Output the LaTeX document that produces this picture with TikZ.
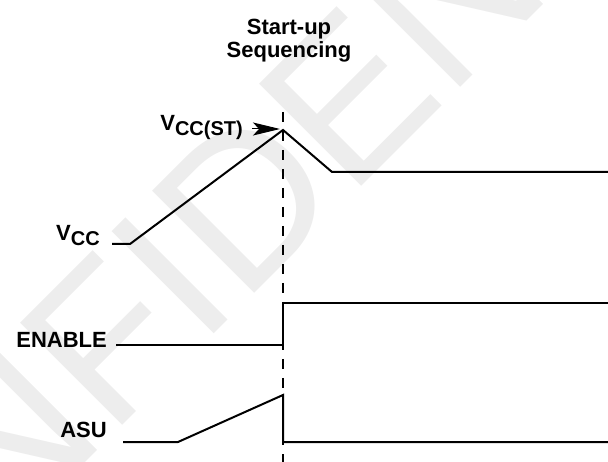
\documentclass[tikz,border=0pt]{standalone}
\usepackage{fontspec}
\setmainfont{Liberation Sans}
\usetikzlibrary{positioning, arrows.meta, calc}

\newcommand{\Vsub}[1]{V\raisebox{-0.2em}{\fontsize{20}{20}\selectfont #1}}

\tikzset{
        stamp/.style={text=black!7, font=\fontsize{210}{210}\selectfont, inner sep=0pt, rotate=45},
        wave/.style={line width=2pt, line join=miter},
        sig/.style={font=\bfseries\fontsize{22}{22}\selectfont, inner sep=0pt},
        marker/.style={line width=2.4pt, dash pattern=on 10pt off 9pt},
        pointer/.style={line width=1pt, -{Stealth[length=27pt, width=13pt, inset=6pt]}}
}

\begin{document}
\begin{tikzpicture}[x=1pt, y=-1pt]
        \useasboundingbox (0,0) rectangle (608,462);
        \begin{scope}
            \clip (0,0) rectangle (608,462);
            \node (Stamp) [stamp, anchor=base west] at (-220,768) {CONFIDENTIAL};
        \end{scope}

        \node (Title) [align=center, inner sep=0pt, font=\bfseries\fontsize{22}{23}\selectfont] at (289,41) {Start-up\\Sequencing};

        \coordinate (MarkTop) at (283,112);
        \coordinate (MarkBot) at (283,462);
        \draw[marker] (MarkTop) -- (MarkBot);

        \node (Vcc) [sig, anchor=base east] at (100,241) {\Vsub{CC}};
        \coordinate (VccRise) at (130,244);
        \coordinate (VccPeak) at (283,130);
        \coordinate (VccFall) at (332,172);
        \coordinate (VccEnd) at (608,172);
        \draw[wave] (Vcc.east |- VccRise) ++(12,0) -- (VccRise) -- (VccPeak) -- (VccFall) -- (VccEnd);

        \node (VccSt) [sig, anchor=base east] at (243,131) {\Vsub{CC(ST)}};
        \coordinate (VccTip) at (280,129);
        \draw[pointer, shorten <=9pt] (VccSt.east |- VccTip) -- (VccTip);

        \node (Enable) [sig, anchor=base east] at (107,348) {ENABLE};
        \coordinate (EnLow) at (283,345);
        \coordinate (EnHigh) at (283,303);
        \coordinate (EnEnd) at (608,303);
        \draw[wave] (Enable.east |- EnLow) ++(9,0) -- (EnLow) -- (EnHigh) -- (EnEnd);

        \node (Asu) [sig, anchor=base east] at (107,437) {ASU};
        \coordinate (AsuRamp) at (178,442);
        \coordinate (AsuPeak) at (283,395);
        \coordinate (AsuLow) at (283,442);
        \coordinate (AsuEnd) at (608,442);
        \draw[wave] (Asu.east |- AsuRamp) ++(16,0) -- (AsuRamp) -- (AsuPeak) -- (AsuLow) -- (AsuEnd);
\end{tikzpicture}
\end{document}
